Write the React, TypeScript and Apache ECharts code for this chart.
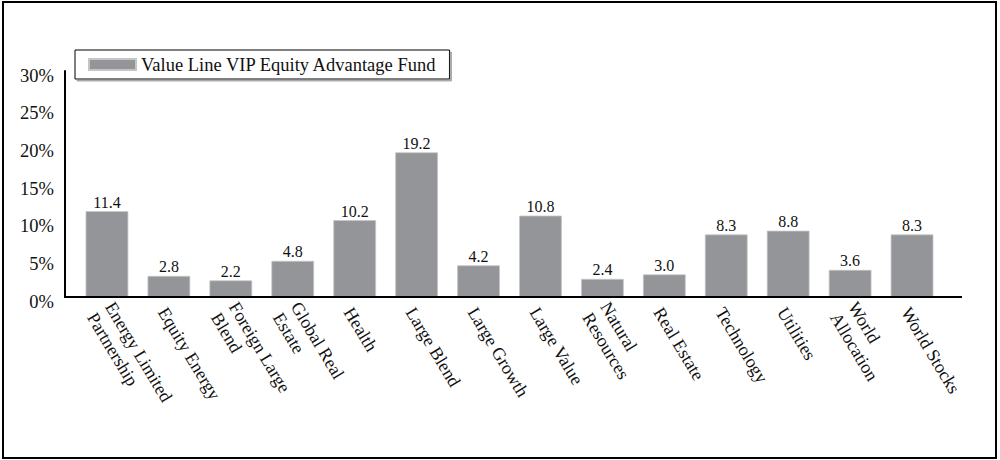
import React, { useEffect, useRef } from "react";
import * as echarts from "echarts";

const categories = [
  "Energy Limited\nPartnership",
  "Equity Energy",
  "Foreign Large\nBlend",
  "Global Real\nEstate",
  "Health",
  "Large Blend",
  "Large Growth",
  "Large Value",
  "Natural\nResources",
  "Real Estate",
  "Technology",
  "Utilities",
  "World\nAllocation",
  "World Stocks",
];

const fundValues = [11.4, 2.8, 2.2, 4.8, 10.2, 19.2, 4.2, 10.8, 2.4, 3.0, 8.3, 8.8, 3.6, 8.3];

const seriesName = "Value Line VIP Equity Advantage Fund";

const FONT = "'Liberation Serif', 'Times New Roman', serif";
const TEXT = "#111";

export default function App() {
  const ref = useRef<HTMLDivElement>(null);

  useEffect(() => {
    if (!ref.current) return;
    const chart = echarts.init(ref.current, undefined, { renderer: "svg" });
    chart.setOption({
      animation: false,
      backgroundColor: "#fff",
      textStyle: { fontFamily: FONT, color: TEXT },
      legend: {
        left: 75,
        top: 50,
        orient: "horizontal",
        data: [seriesName],
        itemWidth: 47,
        itemHeight: 11,
        itemGap: 8,
        padding: [5, 12, 5, 13],
        borderColor: "#000",
        borderWidth: 1,
        borderRadius: 0,
        backgroundColor: "#fff",
        shadowColor: "#aaa",
        shadowBlur: 0,
        shadowOffsetX: 2,
        shadowOffsetY: 2,
        textStyle: { fontFamily: FONT, fontSize: 18.5, color: TEXT },
        icon: "rect",
      },
      grid: {
        left: 76,
        right: 57,
        top: 71,
        bottom: 163,
        containLabel: false,
      },
      xAxis: {
        type: "category",
        data: categories,
        axisLine: { show: false },
        axisTick: { show: false },
        axisLabel: {
          rotate: -59,
          interval: 0,
          margin: 8,
          formatter: (v: string) => "{s| }\n" + v,
          rich: { s: { fontSize: 1, lineHeight: 15 } },
          fontFamily: FONT,
          fontSize: 18,
          lineHeight: 21,
          color: TEXT,
        },
      },
      yAxis: {
        type: "value",
        min: 0,
        max: 30,
        interval: 5,
        offset: 11,
        axisLine: { show: true, lineStyle: { color: "#000", width: 2 } },
        axisTick: { show: false },
        splitLine: { show: false },
        axisLabel: {
          margin: 11,
          formatter: (v: number) => "{s| }\n" + v + "%",
          rich: { s: { fontSize: 1, lineHeight: 9 } },
          fontFamily: FONT,
          fontSize: 18.5,
          lineHeight: 21,
          color: TEXT,
        },
      },
      series: [
        {
          name: seriesName,
          type: "bar",
          data: fundValues,
          barWidth: "69%",
          itemStyle: { color: "#939598", borderColor: "#c4c5c7", borderWidth: 0.8 },
          label: {
            show: true,
            position: "top",
            distance: 1,
            formatter: (p: any) => Number(p.value).toFixed(1),
            fontFamily: FONT,
            fontSize: 16,
            color: TEXT,
          },
        },
      ],
      graphic: [
        {
          type: "line",
          shape: { x1: 64, y1: 297, x2: 962, y2: 297 },
          style: { stroke: "#000", lineWidth: 2 },
          z: 10,
        },
        {
          type: "rect",
          shape: { x: 3, y: 2, width: 993, height: 456 },
          style: { fill: "none", stroke: "#000", lineWidth: 2 },
          z: 10,
        },
      ],
    });
    return () => chart.dispose();
  }, []);

  return (
    <div
      ref={ref}
      style={{ position: "absolute", left: 0, top: 0, width: 1000, height: 460 }}
    />
  );
}
